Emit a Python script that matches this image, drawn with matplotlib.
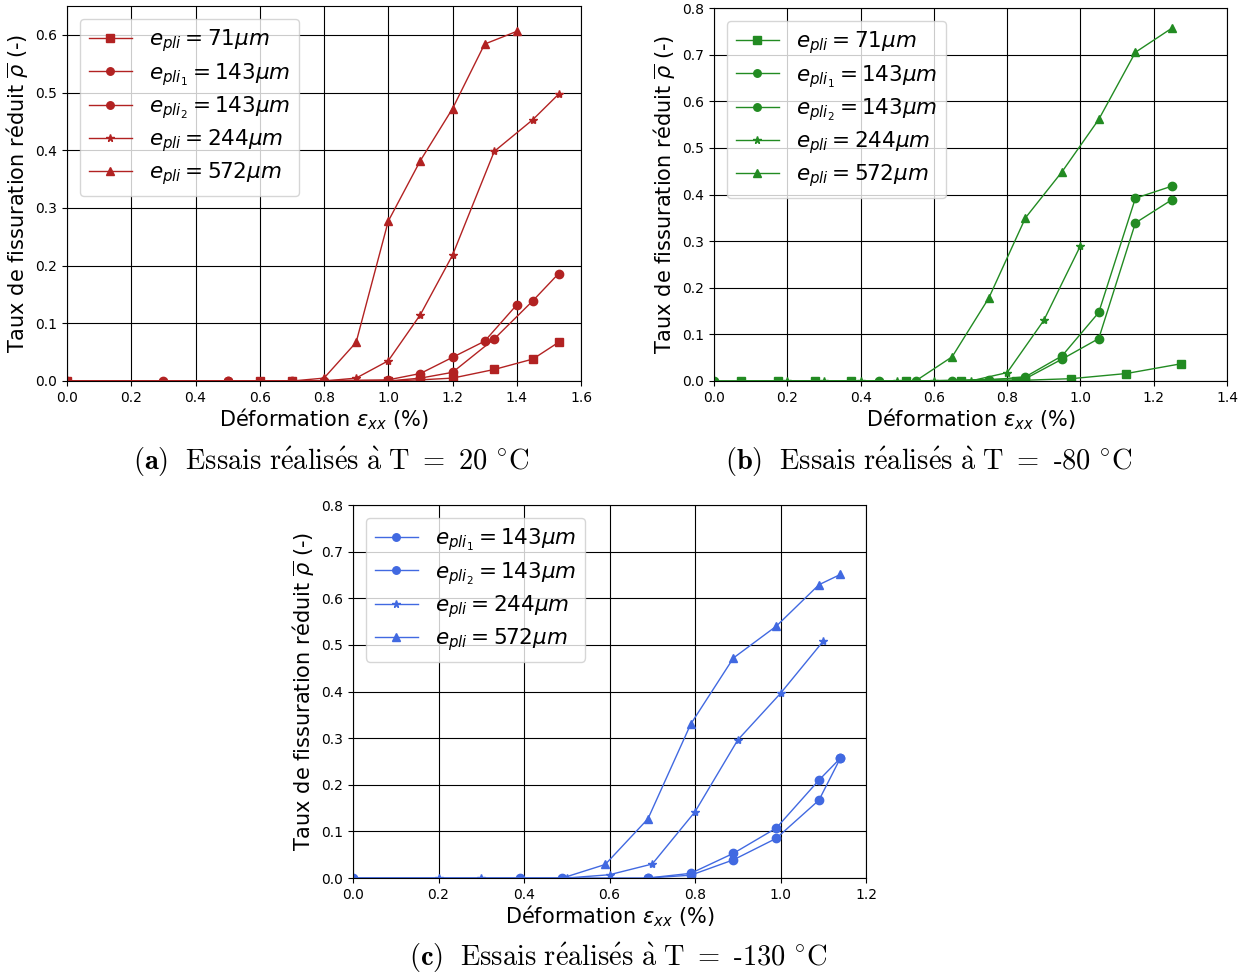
import matplotlib
matplotlib.use("Agg")
import matplotlib.pyplot as plt
import numpy as np

# ---------------- data ----------------
labels5 = [r'$e_{pli} = 71\mu m$', r'$e_{pli_1} = 143\mu m$', r'$e_{pli_2} = 143\mu m$',
           r'$e_{pli} = 244\mu m$', r'$e_{pli} = 572\mu m$']
markers5 = ['s', 'o', 'o', '*', '^']

# (a) T = 20 °C
a_sq_x = [0.0, 0.6, 0.7, 1.0, 1.1, 1.2, 1.33, 1.45, 1.53]
a_sq_y = [0, 0, 0, 0.0, 0.002, 0.005, 0.02, 0.038, 0.067]
a_c1_x = [0.3, 0.5, 0.7, 1.0, 1.1, 1.2, 1.3, 1.4]
a_c1_y = [0, 0, 0, 0.002, 0.013, 0.041, 0.069, 0.132]
a_c2_x = [0.0, 0.5, 0.8, 1.0, 1.1, 1.2, 1.33, 1.45, 1.53]
a_c2_y = [0, 0, 0, 0, 0.005, 0.015, 0.073, 0.139, 0.186]
a_st_x = [0.0, 0.6, 0.8, 0.9, 1.0, 1.1, 1.2, 1.33, 1.45, 1.53]
a_st_y = [0, 0, 0, 0.005, 0.035, 0.115, 0.218, 0.398, 0.453, 0.497]
a_tr_x = [0.0, 0.7, 0.8, 0.9, 1.0, 1.1, 1.2, 1.3, 1.4]
a_tr_y = [0, 0, 0.005, 0.067, 0.277, 0.382, 0.472, 0.584, 0.606]

# (b) T = -80 °C
b_sq_x = [0.075, 0.175, 0.275, 0.375, 0.525, 0.675, 0.825, 0.975, 1.125, 1.275]
b_sq_y = [0, 0, 0, 0, 0, 0, 0.001, 0.005, 0.016, 0.037]
b_c1_x = [0.0, 0.45, 0.65, 0.75, 0.85, 0.95, 1.05, 1.15, 1.25]
b_c1_y = [0, 0, 0, 0.002, 0.009, 0.054, 0.147, 0.392, 0.418]
b_c2_x = [0.55, 0.85, 0.95, 1.05, 1.15, 1.25]
b_c2_y = [0, 0.005, 0.047, 0.091, 0.339, 0.389]
b_st_x = [0.2, 0.3, 0.4, 0.5, 0.6, 0.7, 0.8, 0.9, 1.0]
b_st_y = [0, 0, 0, 0, 0, 0, 0.018, 0.13, 0.29]
b_tr_x = [0.0, 0.55, 0.65, 0.75, 0.85, 0.95, 1.05, 1.15, 1.25]
b_tr_y = [0, 0, 0.052, 0.178, 0.350, 0.449, 0.561, 0.705, 0.757]

# (c) T = -130 °C
c_c1_x = [0.0, 0.39, 0.49, 0.69, 0.79, 0.89, 0.99, 1.09, 1.14]
c_c1_y = [0, 0, 0, 0, 0.010, 0.053, 0.107, 0.210, 0.257]
c_c2_x = [0.69, 0.79, 0.89, 0.99, 1.09, 1.14]
c_c2_y = [0, 0.006, 0.039, 0.085, 0.167, 0.257]
c_st_x = [0.0, 0.2, 0.3, 0.5, 0.6, 0.7, 0.8, 0.9, 1.0, 1.1]
c_st_y = [0, 0, 0, 0, 0.007, 0.030, 0.142, 0.296, 0.396, 0.508]
c_tr_x = [0.49, 0.59, 0.69, 0.79, 0.89, 0.99, 1.09, 1.14]
c_tr_y = [0, 0.029, 0.127, 0.330, 0.472, 0.540, 0.629, 0.651]

xlabel = r'Déformation $\varepsilon_{xx}$ (%)'
ylabel = r'Taux de fissuration réduit $\overline{\rho}$ (-)'

captions = [r'$\mathbf{(a)}\ \ \mathrm{Essais\ r\acute{e}alis\acute{e}s\ \grave{a}\ T}\ =\ \mathrm{20\ {}^{\circ}C}$',
            r'$\mathbf{(b)}\ \ \mathrm{Essais\ r\acute{e}alis\acute{e}s\ \grave{a}\ T}\ =\ \mathrm{‐80\ {}^{\circ}C}$',
            r'$\mathbf{(c)}\ \ \mathrm{Essais\ r\acute{e}alis\acute{e}s\ \grave{a}\ T}\ =\ \mathrm{‐130\ {}^{\circ}C}$']

W, H = 1246, 975
fig = plt.figure(figsize=(W / 100, H / 100), dpi=100)


def make_ax(rect_px, series, color, xlim, ylim, xticks, yticks):
    l, t, r, b = rect_px
    ax = fig.add_axes([l / W, 1 - b / H, (r - l) / W, (b - t) / H])
    for (x, y, m, lab) in series:
        ax.plot(x, y, marker=m, color=color, lw=1.0, ms=6, label=lab)
    ax.set_xlim(*xlim)
    ax.set_ylim(*ylim)
    ax.set_xticks(xticks)
    ax.set_yticks(yticks)
    ax.grid(True, color='black', lw=0.8)
    ax.set_axisbelow(True)
    ax.tick_params(labelsize=10)
    ax.set_xlabel(xlabel, fontsize=15, labelpad=1)
    ax.set_ylabel(ylabel, fontsize=15, labelpad=3)
    ax.legend(loc='upper left', fontsize=15.5, labelspacing=0.3, markerscale=0.9,
              borderaxespad=0.6)
    return ax


make_ax((67, 6, 581, 381),
        list(zip([a_sq_x, a_c1_x, a_c2_x, a_st_x, a_tr_x],
                 [a_sq_y, a_c1_y, a_c2_y, a_st_y, a_tr_y], markers5, labels5)),
        '#b22222', (0, 1.6), (0, 0.65), np.round(np.arange(0, 1.61, 0.2), 1),
        np.round(np.arange(0, 0.61, 0.1), 1))
make_ax((714, 8, 1227, 381),
        list(zip([b_sq_x, b_c1_x, b_c2_x, b_st_x, b_tr_x],
                 [b_sq_y, b_c1_y, b_c2_y, b_st_y, b_tr_y], markers5, labels5)),
        '#228b22', (0, 1.4), (0, 0.8), np.round(np.arange(0, 1.41, 0.2), 1),
        np.round(np.arange(0, 0.81, 0.1), 1))
make_ax((353, 505, 866, 878),
        list(zip([c_c1_x, c_c2_x, c_st_x, c_tr_x],
                 [c_c1_y, c_c2_y, c_st_y, c_tr_y], markers5[1:], labels5[1:])),
        '#4169e1', (0, 1.2), (0, 0.8), np.round(np.arange(0, 1.21, 0.2), 1),
        np.round(np.arange(0, 0.81, 0.1), 1))

for txt, (cx, cy) in zip(captions, [(331, 462), (929, 462), (618, 958)]):
    fig.text(cx / W, 1 - cy / H, txt, ha='center', va='center', fontsize=20.5,
             math_fontfamily='cm')

fig.savefig('out.png', dpi=100)
